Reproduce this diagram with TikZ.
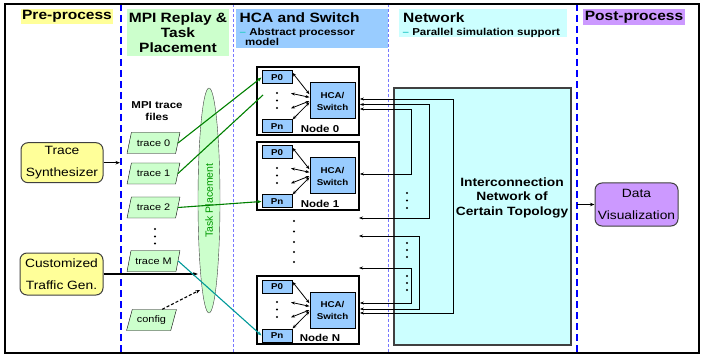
\documentclass[tikz,border=0pt]{standalone}
\usepackage{fontspec}
\setmainfont{Liberation Sans}[FakeStretch=1.15]
\newfontfamily\uprightsans{Liberation Sans}
\usetikzlibrary{shapes.geometric,arrows.meta}

\definecolor{preyellow}{HTML}{FFFF99}
\definecolor{mpigreen}{HTML}{CCFFCC}
\definecolor{hcablue}{HTML}{99CCFF}
\definecolor{netcyan}{HTML}{CCFFFF}
\definecolor{postpurple}{HTML}{CC99FF}
\definecolor{dashblue}{HTML}{0000FF}
\definecolor{thinblue}{HTML}{7777FF}
\definecolor{linkgreen}{HTML}{008000}
\definecolor{tpgreen}{HTML}{009900}
\definecolor{linkteal}{HTML}{009999}
\definecolor{subcyan}{HTML}{33CCCC}
\definecolor{edgegray}{HTML}{404040}

\newcommand{\fs}[2]{\fontsize{#1}{#2}\selectfont}

% one compute node: box, P0/Pn, HCA/Switch and the local links
\newcommand{\cluster}[3]{%
  \begin{scope}[shift={(0,#2)}]
    \node[nodebox] (#1) at (308,34) {};
    \node[pbox] (#1p0) at (277,10.5) {P0};
    \node[pbox] (#1pn) at (277,59.5) {Pn};
    \node[hcabox] (#1hca) at (332.5,34) {HCA/\\Switch};
    \node[nodelbl] (#1lbl) at (320,62) {#3};
    \coordinate (#1da) at (291,26.3);
    \coordinate (#1db) at (291,41.3);
    \fill (277,26) circle (1.2) (277,33.5) circle (1.2) (277,41) circle (1.2);
    \draw[bi] ([yshift=-2.3pt]#1p0.north east) -- ([yshift=6.7pt]#1hca.west);
    \draw[bi] (#1da) -- ([yshift=3.7pt]#1hca.west);
    \draw[bi] (#1db) -- (#1hca.west);
    \draw[bi] (#1pn.north east) -- ([yshift=-1.3pt]#1hca.west);
  \end{scope}}

\begin{document}
\begin{tikzpicture}[x=1pt,y=-1pt,
  tip/.style={-{Stealth[length=4.5pt,width=3.5pt]}},
  bi/.style={{Stealth[length=4pt,width=3pt]}-{Stealth[length=4pt,width=3pt]}, line width=0.8pt},
  link/.style={line width=1.1pt},
  phase/.style={dash pattern=on 7pt off 4pt, line width=2.5pt, draw=dashblue},
  subphase/.style={dash pattern=on 3pt off 2pt, line width=0.7pt, draw=thinblue},
  hdr/.style={inner sep=0, font=\bfseries\fs{13.5}{15}},
  sub/.style={inner sep=0, anchor=base west, font=\bfseries\fs{10}{12}},
  roundbox/.style={rounded corners=7pt, draw=edgegray, line width=1pt, align=center,
                   font=\fs{12}{21.5}, inner sep=0},
  trc/.style={trapezium, trapezium left angle=64, trapezium right angle=116,
              trapezium stretches=true, minimum width=53pt, minimum height=21pt,
              draw, fill=mpigreen, inner sep=0, font=\fs{9.5}{11}},
  nodebox/.style={draw, fill=white, line width=1.8pt, minimum width=102pt, minimum height=68pt, inner sep=0},
  pbox/.style={draw, fill=hcablue, line width=1pt, minimum width=30pt, minimum height=13pt,
               inner sep=0, font=\bfseries\fs{8.5}{10}},
  hcabox/.style={draw, fill=hcablue, line width=1pt, minimum width=45pt, minimum height=36pt,
                 inner sep=0, align=center, font=\bfseries\fs{8.5}{12}},
  nodelbl/.style={inner sep=0, font=\bfseries\fs{10}{12}},
]
\useasboundingbox (0,0) rectangle (703,355);

% phase separators and frame
\draw[phase] (121,4) -- (121,353);
\draw[phase] (577,4) -- (577,353);
\draw[subphase] (233,4) -- (233,353);
\draw[subphase] (388,4) -- (388,353);
\draw[line width=2pt] (5,4) rectangle (699,353);
\coordinate (dashL) at (120,0);
\coordinate (dashR) at (577,0);

% phase headers
\node[hdr, fill=preyellow, minimum width=92pt, minimum height=15pt] (prehdr) at (67,16.5) {Pre-process};
\node[hdr, fill=mpigreen, minimum width=102pt, minimum height=47pt, align=center] (mpihdr) at (178,32.5)
  {MPI Replay \&\\Task\\Placement};
\node[fill=hcablue, minimum width=152pt, minimum height=39pt, inner sep=0] (hcahdr) at (312,28.5) {};
\node[hdr, anchor=base west] (hcattl) at (239.5,22.8) {HCA and Switch};
\node[sub] (hcasub1) at (239.5,35.6) {\textcolor{subcyan}{–} Abstract processor};
\node[sub] (hcasub2) at (245,45.6) {model};
\node[fill=netcyan, minimum width=168pt, minimum height=28pt, inner sep=0] (nethdr) at (483,23) {};
\node[hdr, anchor=base west] (netttl) at (403,22.5) {Network};
\node[sub] (netsub) at (402.5,35.3) {\textcolor{subcyan}{–} Parallel simulation support};
\node[hdr, fill=postpurple, minimum width=102pt, minimum height=16pt] (posthdr) at (634,17) {Post-process};

% pre-processing sources
\node[roundbox, fill=preyellow, minimum width=82pt, minimum height=40pt] (tsyn) at (62,162.7) {Trace\\Synthesizer};
\node[roundbox, fill=preyellow, minimum width=83pt, minimum height=42pt] (ctg) at (61.5,274) {Customized\\Traffic Gen.};

% trace files
\node[inner sep=0, align=center, font=\bfseries\fs{10}{12}] (mpilbl) at (157,111) {MPI trace\\files};
\node[trc] (t0) at (153.5,143) {trace 0};
\node[trc] (t1) at (153.5,173.5) {trace 1};
\node[trc] (t2) at (153.5,207.5) {trace 2};
\node[trc] (tm) at (153.5,261) {trace M};
\node[trc, minimum width=50pt] (cfg) at (151.5,320) {config};
\fill (155,229) circle (1.2) (155,236.5) circle (1.2) (155,243.5) circle (1.2);

% task placement
\node[ellipse, draw=edgegray, fill=mpigreen, rotate=90, minimum width=225pt, minimum height=22pt,
      inner sep=0, font=\uprightsans\fs{10.5}{12}, text=tpgreen] (tp) at (209,200.5) {Task Placement};
\coordinate (tpcfg) at (200,290);

% network
\node[draw=edgegray, fill=netcyan, line width=1.2pt, minimum width=177pt, minimum height=257pt, inner sep=0] (net) at (482.5,216.5) {};
\node[inner sep=0, align=center, font=\bfseries\fs{12}{14.5}] (netlbl) at (512,197.5)
  {Interconnection\\Network of\\Certain Topology};

% compute nodes
\cluster{n0}{67}{Node 0}
\cluster{n1}{142}{Node 1}
\cluster{nN}{276}{Node N}
\fill (294,221) circle (1.2) (294,231.5) circle (1.2) (294,242) circle (1.2) (294,252) circle (1.2) (294,262) circle (1.2);

% post-processing
\node[roundbox, fill=postpurple, minimum width=83pt, minimum height=43pt] (dv) at (636.5,204.5) {Data\\Visualization};

% inputs into the placement stage
\draw[tip, link] (tsyn.east) -- (tsyn.east -| dashL);
\draw[tip, link] (ctg.east) -- (ctg.east -| tp.north);
\draw[tip, link, dash pattern=on 3pt off 2pt] (cfg.north east) -- (tpcfg);

% trace-to-process mapping
\coordinate (n0mid) at (263,95);
\draw[tip, link, draw=linkgreen] (t0.east) -- (n0p0.west);
\draw[link, draw=linkgreen] (t1.east) -- (n0mid);
\draw[tip, link, draw=linkgreen] (t2.east) -- (n1pn.west);
\draw[tip, link, draw=linkteal] (tm.east) -- (nNpn.west);

% links through the interconnection network
\coordinate (vA1) at (411,109);   \coordinate (vA2) at (411,174);
\coordinate (vB1) at (429,104.5); \coordinate (vB2) at (429,218);
\coordinate (vC1) at (453,99);    \coordinate (vC2) at (453,313);
\coordinate (vD1) at (419,236);   \coordinate (vD2) at (419,309);
\coordinate (vE1) at (411,268);   \coordinate (vE2) at (411,303);
\coordinate (gapA) at (359,218);
\coordinate (gapB) at (359,236);
\coordinate (gapC) at (359,268);
\draw[bi] (n0.east |- vA1) -- (vA1) -- (vA2) -- (n1.east |- vA2);
\draw[bi] (n0.east |- vB1) -- (vB1) -- (vB2) -- (gapA);
\draw[bi] (n0.east |- vC1) -- (vC1) -- (vC2) -- (nN.east |- vC2);
\draw[bi] (gapB) -- (vD1) -- (vD2) -- (nN.east |- vD2);
\draw[bi] (gapC) -- (vE1) -- (vE2) -- (nN.east |- vE2);
\fill (407,193) circle (1.2) (407,200.5) circle (1.2) (407,208) circle (1.2);
\fill (407,243) circle (1.2) (407,250) circle (1.2) (407,257) circle (1.2);
\fill (407,276) circle (1.2) (407,283) circle (1.2) (407,290) circle (1.2);

% output to visualisation
\draw[tip, link] (dv.west -| dashR) -- (dv.west);
\end{tikzpicture}
\end{document}
